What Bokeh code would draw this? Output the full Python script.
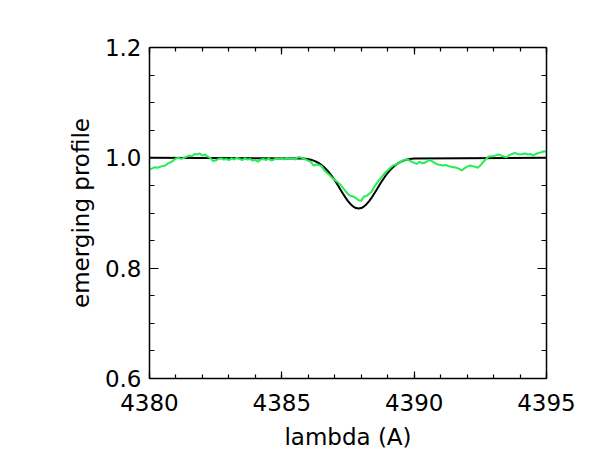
from bokeh.plotting import figure
from bokeh.models import (LinearAxis, FixedTicker, PrintfTickFormatter,
                          CustomJSTickFormatter, Range1d)
from bokeh.embed import file_html
from bokeh.resources import INLINE

# observed spectrum (green), sampled every 0.1 A from 4380.0 to 4395.0
obs_wl = [round(4380.0 + 0.1 * i, 1) for i in range(151)]
obs_flux = [
    0.979, 0.981, 0.983, 0.982, 0.984, 0.985, 0.986, 0.990, 0.992, 0.995,
    0.999, 1.000, 0.998, 1.000, 1.002, 1.004, 1.003, 1.007, 1.006, 1.008,
    1.004, 1.006, 1.002, 1.000, 0.994, 0.995, 0.998, 0.999, 0.997, 0.998,
    0.996, 0.999, 0.997, 1.000, 0.998, 0.996, 0.999, 0.997, 0.998, 0.995,
    0.996, 0.993, 0.997, 0.998, 0.996, 0.999, 0.995, 0.997, 0.999, 0.998,
    0.999, 0.997, 1.000, 0.998, 0.999, 0.997, 1.001, 1.001, 0.999, 0.997,
    0.995, 0.992, 0.986, 0.988, 0.987, 0.985, 0.978, 0.973, 0.969, 0.964,
    0.960, 0.956, 0.952, 0.946, 0.940, 0.934, 0.931, 0.930, 0.927, 0.923,
    0.922, 0.930, 0.931, 0.935, 0.939, 0.948, 0.955, 0.961, 0.967, 0.973,
    0.977, 0.982, 0.986, 0.988, 0.990, 0.993, 0.996, 0.997, 0.996, 0.993,
    0.991, 0.989, 0.993, 0.990, 0.991, 0.994, 0.996, 0.993, 0.990, 0.988,
    0.987, 0.986, 0.987, 0.985, 0.984, 0.983, 0.982, 0.980, 0.977, 0.981,
    0.984, 0.986, 0.985, 0.984, 0.982, 0.986, 0.992, 0.997, 1.002, 1.003,
    1.003, 1.005, 1.006, 1.004, 1.002, 1.001, 1.005, 1.007, 1.009, 1.007,
    1.006, 1.007, 1.008, 1.006, 1.007, 1.004, 1.007, 1.009, 1.010, 1.012,
    1.011,
]

# model profile (black)
model_wl = [4380.0, 4385.8, 4385.9, 4386.0, 4386.1, 4386.2, 4386.3, 4386.4,
            4386.5, 4386.6, 4386.7, 4386.8, 4386.9, 4387.0, 4387.1, 4387.2,
            4387.3, 4387.4, 4387.5, 4387.6, 4387.7, 4387.8, 4387.9, 4388.0,
            4388.1, 4388.2, 4388.3, 4388.4, 4388.5, 4388.6, 4388.7, 4388.8,
            4388.9, 4389.0, 4389.1, 4389.2, 4389.3, 4389.4, 4389.5, 4389.6,
            4389.7, 4389.8, 4389.9, 4390.0, 4395.0]
model_flux = [1.0, 0.9990, 0.9983, 0.9975, 0.9964, 0.9949, 0.9929, 0.9903,
              0.9870, 0.9830, 0.9782, 0.9725, 0.9662, 0.9592, 0.9515, 0.9436,
              0.9357, 0.9284, 0.9216, 0.9159, 0.9116, 0.9089, 0.9080, 0.9089,
              0.9116, 0.9159, 0.9216, 0.9284, 0.9357, 0.9436, 0.9515, 0.9592,
              0.9662, 0.9725, 0.9782, 0.9830, 0.9870, 0.9903, 0.9929, 0.9949,
              0.9964, 0.9975, 0.9983, 0.9989, 1.0]

x_ticks = [4380, 4385, 4390, 4395]
x_minor = [4380 + i for i in range(16)]
y_ticks = [0.6, 0.8, 1.0, 1.2]
y_minor = [round(0.6 + 0.05 * i, 2) for i in range(13)]

FONT = "DejaVu Sans"
FS = "23px"

p = figure(width=583, height=464, output_backend="svg", toolbar_location=None,
           x_range=Range1d(4380, 4395), y_range=Range1d(0.6, 1.2),
           min_border_left=149, min_border_right=37,
           min_border_top=47, min_border_bottom=86)
p.outline_line_color = None
p.grid.visible = False
p.background_fill_color = "white"
p.border_fill_color = "white"

p.line(model_wl, model_flux, line_color="black", line_width=2)
p.line(obs_wl, obs_flux, line_color="#22ee55", line_width=2)


def style(ax, major_len, minor_len):
    ax.axis_line_color = "black"
    ax.axis_line_width = 1.5
    ax.major_tick_in = major_len
    ax.major_tick_out = 0
    ax.minor_tick_in = minor_len
    ax.minor_tick_out = 0
    ax.major_tick_line_color = "black"
    ax.minor_tick_line_color = "black"
    ax.major_tick_line_width = 1.2
    ax.minor_tick_line_width = 1.2
    ax.major_label_text_font = FONT
    ax.major_label_text_font_size = FS
    ax.major_label_text_color = "black"
    ax.axis_label_text_font = FONT
    ax.axis_label_text_font_size = FS
    ax.axis_label_text_font_style = "normal"
    ax.axis_label_text_color = "black"


xax = p.xaxis[0]
xax.ticker = FixedTicker(ticks=x_ticks, minor_ticks=x_minor)
xax.formatter = PrintfTickFormatter(format="%d")
xax.axis_label = "lambda (A)"
xax.major_label_standoff = 15
xax.axis_label_standoff = 10
style(xax, 7, 4)

yax = p.yaxis[0]
yax.ticker = FixedTicker(ticks=y_ticks, minor_ticks=y_minor)
yax.formatter = PrintfTickFormatter(format="%.1f")
yax.axis_label = "emerging profile"
yax.major_label_standoff = 8
yax.axis_label_standoff = 8
style(yax, 9, 5)

blank = CustomJSTickFormatter(code="return ''")
top = LinearAxis(ticker=FixedTicker(ticks=x_ticks, minor_ticks=x_minor),
                 formatter=blank)
style(top, 7, 4)
right = LinearAxis(ticker=FixedTicker(ticks=y_ticks, minor_ticks=y_minor),
                   formatter=blank)
style(right, 9, 5)
p.add_layout(top, "above")
p.add_layout(right, "right")

open("out.html", "w").write(file_html(p, INLINE))
